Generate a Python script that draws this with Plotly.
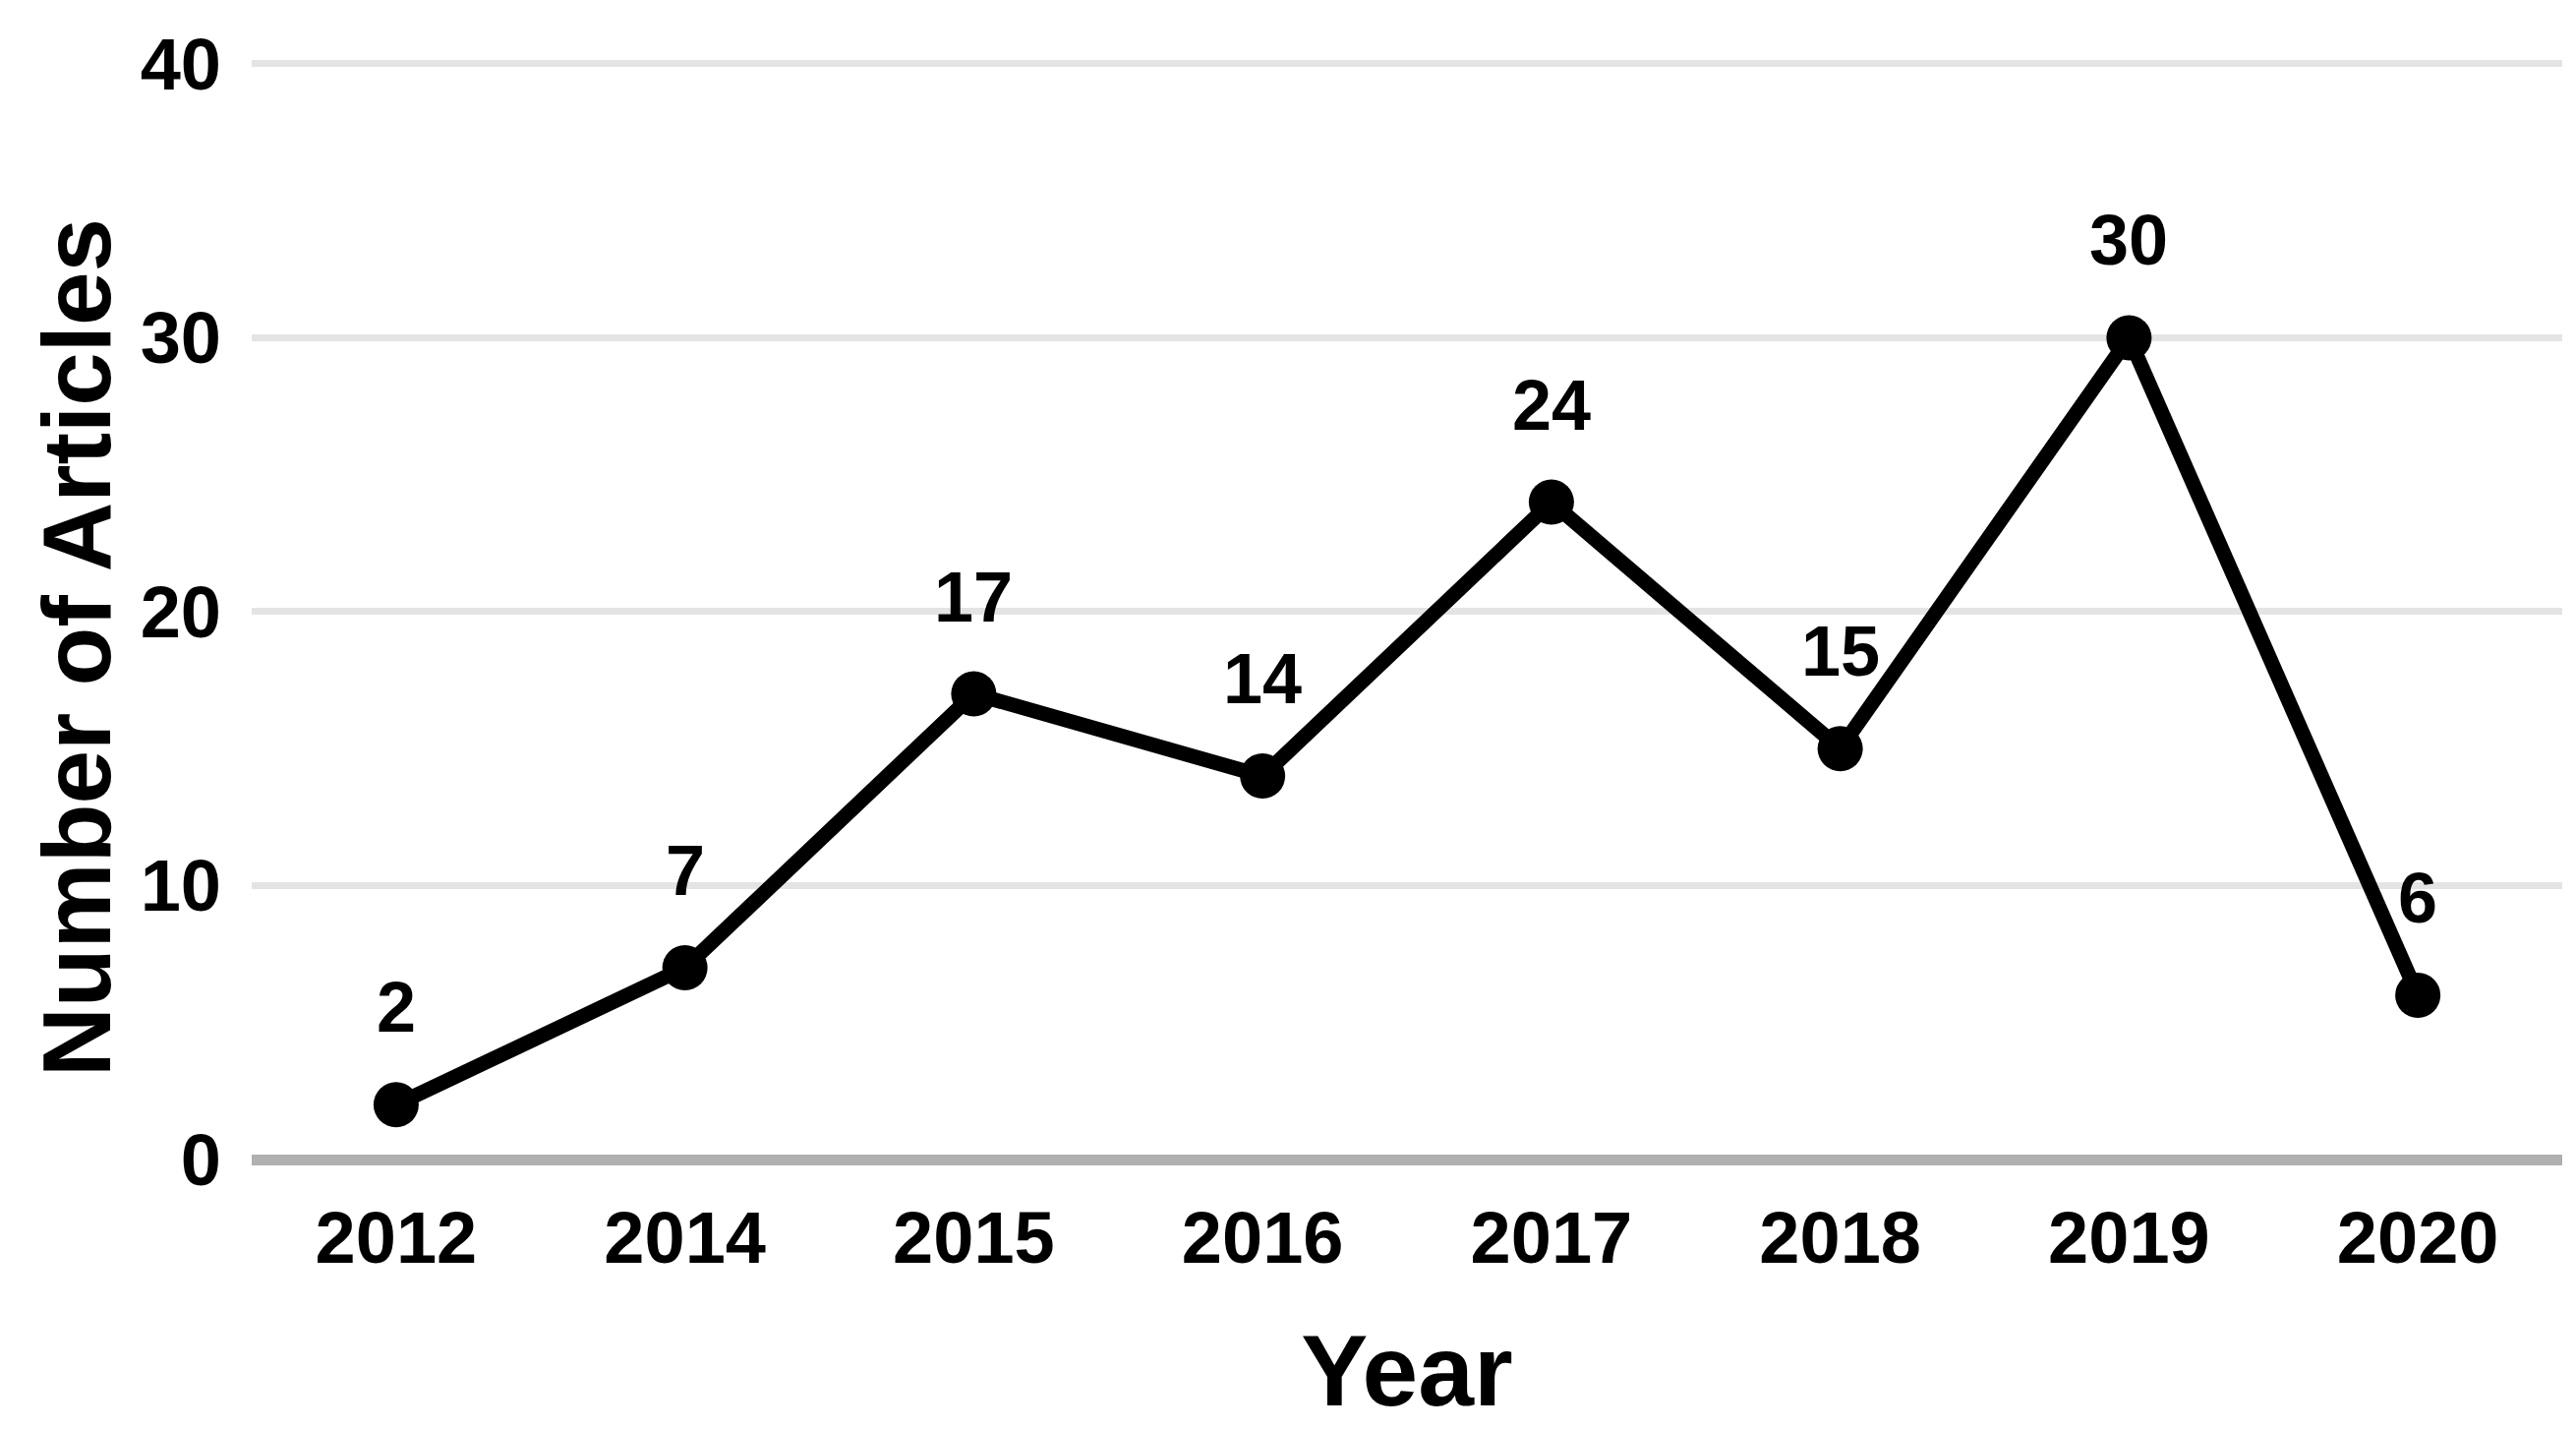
import plotly.graph_objects as go

years = ["2012", "2014", "2015", "2016", "2017", "2018", "2019", "2020"]
articles = [2, 7, 17, 14, 24, 15, 30, 6]
y_ticks = [0, 10, 20, 30, 40]

FONT = "Liberation Sans, Arial, sans-serif"

fig = go.Figure()
fig.add_trace(go.Scatter(
    x=years, y=articles, mode="lines+markers",
    line=dict(color="#000000", width=15),
    marker=dict(color="#000000", size=46),
    cliponaxis=False, showlegend=False,
))

for i, v in enumerate(articles):
    fig.add_annotation(
        x=i, y=v, xref="x", yref="y", text=str(v), showarrow=False,
        yanchor="middle", yshift=99,
        font=dict(family=FONT, size=72, color="#000000", weight=700),
    )

fig.add_annotation(
    x=-0.0757, y=0.466, xref="paper", yref="paper", text="Number of Articles",
    textangle=-90, showarrow=False, xanchor="center", yanchor="middle",
    font=dict(family=FONT, size=98, color="#000000", weight=700),
)

fig.update_layout(
    width=2620, height=1453,
    margin=dict(l=248, r=22, t=55, b=282),
    paper_bgcolor="#ffffff", plot_bgcolor="#ffffff",
    xaxis=dict(
        type="category", range=[-0.5, 7.5], showgrid=False, showline=False,
        zeroline=False, ticks="", ticklabelstandoff=30,
        tickfont=dict(family=FONT, size=74, color="#000000", weight=700),
        title=dict(text="Year", standoff=58,
                   font=dict(family=FONT, size=102, color="#000000", weight=700)),
    ),
    yaxis=dict(
        range=[0, 40.07], tickvals=y_ticks, showgrid=True, gridcolor="#e4e4e4",
        gridwidth=7, zeroline=True, zerolinecolor="#b0b0b0", zerolinewidth=11,
        showline=False, ticks="", ticklabelstandoff=30,
        tickfont=dict(family=FONT, size=74, color="#000000", weight=700),
    ),
)

fig.write_html("out.html")
